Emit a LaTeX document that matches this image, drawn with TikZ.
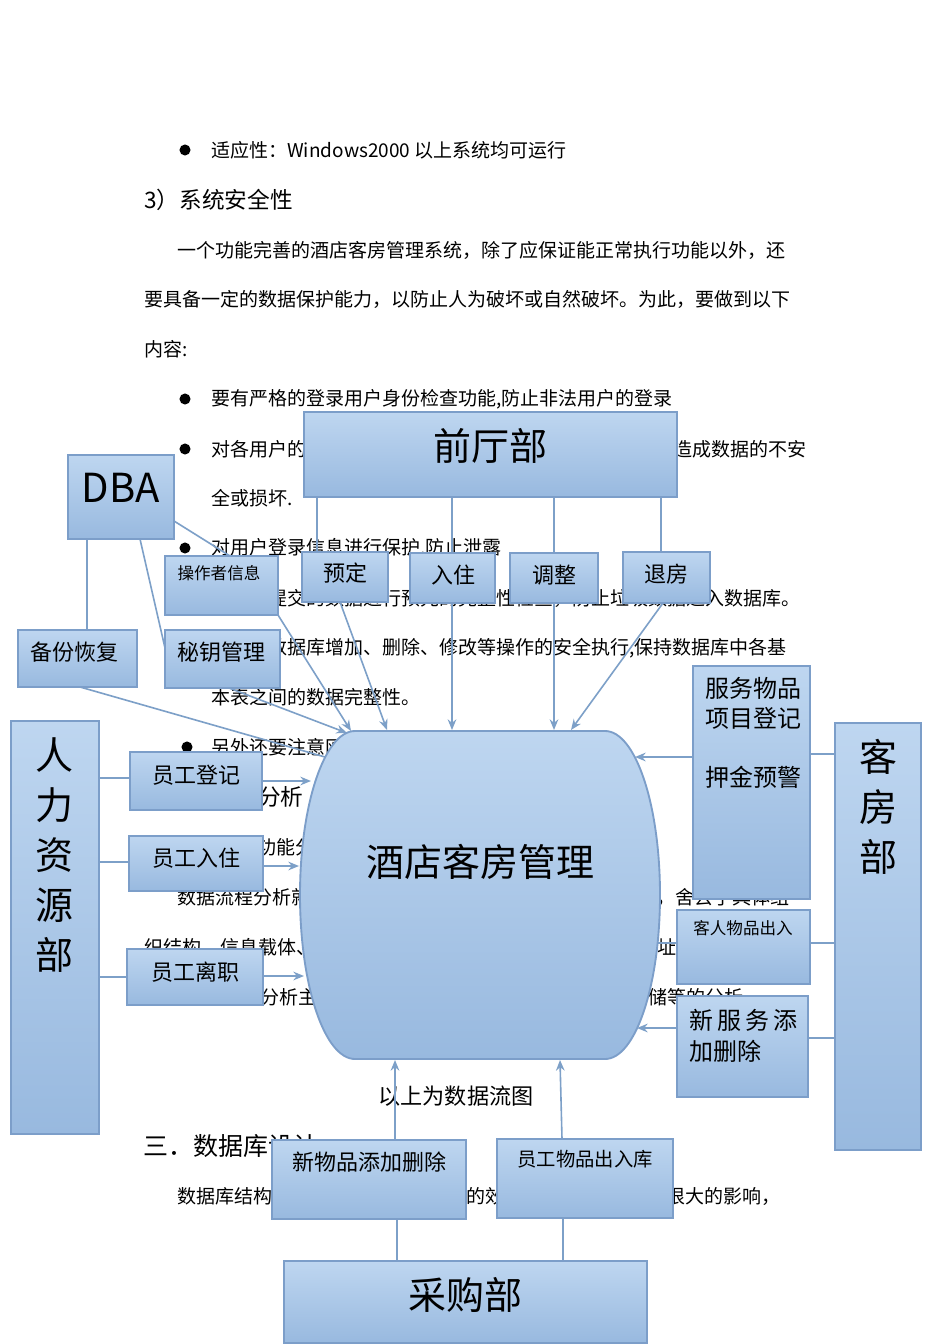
\documentclass[tikz,border=0pt]{standalone}
\usepackage{fontspec}
\setmainfont{Noto Sans CJK SC}
\usetikzlibrary{fit,calc,arrows.meta}
\definecolor{boxtop}{RGB}{190,214,240}
\definecolor{boxbot}{RGB}{152,185,223}
\definecolor{boxedge}{RGB}{124,158,201}
\definecolor{lnk}{RGB}{125,160,200}
\newcommand\fsz[2]{\fontsize{#1}{#2}\selectfont}
\pgfdeclarelayer{bg}
\pgfdeclarelayer{lines}
\pgfsetlayers{bg,lines,main}
\tikzset{
  dbox/.style={draw=boxedge, line width=1.4pt, top color=boxtop, bottom color=boxbot, inner sep=0pt, outer sep=0pt},
  lbl/.style={inner sep=0pt, text=black},
  bgtxt/.style={inner sep=0pt, anchor=west, font=\fsz{14.25pt}{17pt}},
  conn/.style={draw=lnk, line width=1.2pt},
  arr/.style={conn, -{Stealth[length=8pt,width=6.5pt]}},
  bul/.style={circle, fill=black, inner sep=0pt, minimum size=8.3pt}
}
\begin{document}
\begin{tikzpicture}[x=0.75pt,y=-0.75pt]
\useasboundingbox (0,0) rectangle (950,1344);

% ---------------- boxes ----------------
\node[dbox, fit={(304,412) (677,497)}] (qt) {};
\node[dbox, fit={(68,455) (174,539)}] (dba) {};
\node[dbox, fit={(165,556) (278,615)}] (czz) {};
\node[dbox, fit={(302,552) (388,602)}] (yd) {};
\node[dbox, fit={(410,553) (495,603)}] (rz) {};
\node[dbox, fit={(510,553) (598,603)}] (tz) {};
\node[dbox, fit={(623,552) (710,603)}] (tf) {};
\node[dbox, fit={(18,630) (137,687)}] (bf) {};
\node[dbox, fit={(165,630) (280,688)}] (my) {};
\node[dbox, fit={(11,721) (99,1134)}] (hr) {};
\node[dbox, fit={(130,752) (262,810)}] (yg1) {};
\node[dbox, fit={(129,836) (263,891)}] (yg2) {};
\node[dbox, fit={(127,949) (263,1005)}] (yg3) {};
\node[dbox, fit={(693,666) (810,899)}] (fw) {};
\node[dbox, fit={(835,723) (921,1150)}] (kf) {};
\node[dbox, fit={(677,910) (810,984)}] (kr) {};
\node[dbox, fit={(677,996) (808,1097)}] (xfw) {};
\node[dbox, fit={(272,1140) (466,1219)}] (xwp) {};
\node[dbox, fit={(497,1139) (673,1218)}] (ygwp) {};
\node[dbox, fit={(284,1261) (647,1343)}] (cg) {};

% central shape
\path[draw=boxedge, line width=1.4pt, top color=boxtop, bottom color=boxbot]
  (355,731) -- (605,731) .. controls (635.4,731) and (660,804.4) .. (660,895)
  .. controls (660,985.6) and (635.4,1059) .. (605,1059) -- (355,1059)
  .. controls (324.6,1059) and (300,985.6) .. (300,895)
  .. controls (300,804.4) and (324.6,731) .. (355,731) -- cycle;

% ---------------- labels ----------------
\node[lbl, font=\fsz{28.5pt}{34pt}] (qtl) at (490,446) {前厅部};
\node[lbl, font=\fsz{30pt}{36pt}] (dbal) at (121,488) {DBA};
\node[lbl, font=\fsz{12.4pt}{15pt}] (czzl) at (219,573) {操作者信息};
\node[lbl, font=\fsz{16.5pt}{20pt}] (ydl) at (345,573) {预定};
\node[lbl, font=\fsz{16.5pt}{20pt}] (rzl) at (453,575) {入住};
\node[lbl, font=\fsz{16.5pt}{20pt}] (tzl) at (554,575) {调整};
\node[lbl, font=\fsz{16.5pt}{20pt}] (tfl) at (666,574) {退房};
\node[lbl, font=\fsz{16.5pt}{20pt}] (bfl) at (74,652) {备份恢复};
\node[lbl, font=\fsz{16.5pt}{20pt}] (myl) at (221,652) {秘钥管理};
\node[lbl, font=\fsz{28.5pt}{37.5pt}, align=center] (hrl) at (55,855) {人\\力\\资\\源\\部};
\node[lbl, font=\fsz{16.5pt}{20pt}] (yg1l) at (196,775) {员工登记};
\node[lbl, font=\fsz{16.5pt}{20pt}] (yg2l) at (196,858) {员工入住};
\node[lbl, font=\fsz{16.5pt}{20pt}] (yg3l) at (195,972) {员工离职};
\node[lbl, font=\fsz{28.5pt}{34pt}] (hm) at (480,862) {酒店客房管理};
\node[lbl, font=\fsz{18pt}{22.1pt}, align=left, anchor=west] (fwl) at (705,703.5) {服务物品\\项目登记};
\node[lbl, font=\fsz{18pt}{22.1pt}, anchor=west] (fwl2) at (705,777) {押金预警};
\node[lbl, font=\fsz{28.5pt}{37.5pt}, align=center] (kfl) at (878,807) {客\\房\\部};
\node[lbl, font=\fsz{12.4pt}{15pt}] (krl) at (743,928) {客人物品出入};
\node[lbl, font=\fsz{18pt}{23.25pt}, align=left, anchor=west] (xfwl) at (689,1035.5) {新\hspace{3pt}服\hspace{3pt}务\hspace{3pt}添\\加删除};
\node[lbl, font=\fsz{16.5pt}{20pt}] (xwpl) at (369,1162) {新物品添加删除};
\node[lbl, font=\fsz{14.5pt}{18pt}] (ygwpl) at (585,1159) {员工物品出入库};
\node[lbl, font=\fsz{28.5pt}{34pt}] (cgl) at (465,1295) {采购部};

% ---------------- connector end points ----------------
\coordinate (s1) at (387,730);
\coordinate (s2) at (452,730);
\coordinate (s3) at (554,730);
\coordinate (s4) at (571,730);
\coordinate (s5) at (351,731);
\coordinate (s6) at (347,733);
\coordinate (s7) at (325,757);
\coordinate (s8) at (311,781);
\coordinate (s9) at (299,866);
\coordinate (s10) at (304,976);
\coordinate (s11) at (635,757);
\coordinate (s12) at (657,943);
\coordinate (s13) at (637,1028);
\coordinate (s14) at (395,1060);
\coordinate (s15) at (560,1060);
\path ($(yd.north west)+(15,0)$) coordinate (p1);
\path ($(tf.north west)+(38,0)$) coordinate (p2);
\path ($(bf.north west)+(69,0)$) coordinate (p3);
\path ($(xwp.south west)+(125,0)$) coordinate (p4);
\path ($(ygwp.south west)+(66,0)$) coordinate (p5);
\path ($(hr.north east)+(0,57)$) coordinate (h1);
\path ($(hr.north east)+(0,141)$) coordinate (h2);
\path ($(hr.north east)+(0,256)$) coordinate (h3);
\path ($(fw.north east)+(0,88)$) coordinate (k1);
\path ($(kr.north east)+(0,33)$) coordinate (k2);
\path ($(xfw.north east)+(0,42)$) coordinate (k3);

\begin{pgfonlayer}{lines}
% front desk
\draw[conn] (qt.south -| p1) -- (p1);
\draw[conn] (qt.south -| s2) -- (rz.north -| s2);
\draw[conn] (qt.south -| s3) -- (tz.north -| s3);
\draw[conn] (qt.south -| p2) -- (p2);
\draw[arr] ($(yd.south west)+(38,0)$) -- (s1);
\draw[arr] (rz.south -| s2) -- (s2);
\draw[arr] (tz.south -| s3) -- (s3);
\draw[arr] ($(tf.south west)+(40,0)$) -- (s4);
% DBA
\draw[conn] ($(dba.north east)+(0,66)$) -- ($(czz.north west)+(65,0)$);
\draw[conn] (dba.south -| p3) -- (p3);
\draw[conn] ($(dba.south west)+(72,0)$) -- ($(my.north west)+(0,18)$);
\draw[arr] (czz.south east) -- (s5);
\draw[arr] ($(my.south west)+(64,0)$) -- (s6);
\draw[conn] ($(bf.south west)+(62,0)$) -- (s7);
% HR
\draw[conn] (h1) -- (h1 -| yg1.west);
\draw[conn] (h2) -- (h2 -| yg2.west);
\draw[conn] (h3) -- (h3 -| yg3.west);
\draw[arr] (s8 -| yg1.east) -- (s8);
\draw[arr] (s9 -| yg2.east) -- (s9);
\draw[arr] (s10 -| yg3.east) -- (s10);
% rooms
\draw[arr] (s11 -| fw.west) -- (s11);
\draw[conn] (s12 -| kr.west) -- (s12);
\draw[arr] (s13 -| xfw.west) -- (s13);
\draw[conn] (k1) -- (k1 -| kf.west);
\draw[conn] (k2) -- (k2 -| kf.west);
\draw[conn] (k3) -- (k3 -| kf.west);
% purchasing
\draw[arr] (s14 |- xwp.north) -- (s14);
\draw[arr] ($(ygwp.north west)+(65,0)$) -- (s15);
\draw[conn] (p4) -- (p4 |- cg.north);
\draw[conn] (p5) -- (p5 |- cg.north);
\end{pgfonlayer}

% ---------------- page text underneath ----------------
\begin{pgfonlayer}{bg}
\fill[white] (0,0) rectangle (950,1344);
\node[bul] (b1) at (185,150) {};
\node[bgtxt] (t1) at (211,150) {适应性：Windows2000 以上系统均可运行};
\node[bgtxt, font=\fsz{17pt}{20pt}] (t2) at (144,200) {3）系统安全性};
\node[bgtxt] (t3) at (177,250) {一个功能完善的酒店客房管理系统，除了应保证能正常执行功能以外，还};
\node[bgtxt] (t4) at (144,299) {要具备一定的数据保护能力，以防止人为破坏或自然破坏。为此，要做到以下};
\node[bgtxt] (t5) at (144,349) {内容:};
\node[bul] (b2) at (185,399) {};
\node[bgtxt] (t6) at (211,399) {要有严格的登录用户身份检查功能,防止非法用户的登录};
\node[bul] (b3) at (185,449) {};
\node[bgtxt] (t7) at (211,449) {对各用户的};
\node[bgtxt] (t7b) at (673,449) {造成数据的不安};
\node[bgtxt] (t8) at (211,498) {全或损坏.};
\node[bul] (b4) at (185,548) {};
\node[bgtxt] (t9) at (211,548) {对用户登录信息进行保护,防止泄露};
\node[bgtxt] (t10) at (268,598) {提交的数据进行预先的完整性检查，防止垃圾数据进入数据库。};
\node[bgtxt] (t11) at (268,648) {数据库增加、删除、修改等操作的安全执行,保持数据库中各基};
\node[bgtxt] (t12) at (211,697) {本表之间的数据完整性。};
\node[bul] (b5) at (187,747) {};
\node[bgtxt] (t13) at (211,747) {另外还要注意网};
\node[bgtxt, font=\fsz{17pt}{20pt}] (t14) at (258,797) {分析};
\node[bgtxt] (t15) at (257,847) {功能分析};
\node[bgtxt] (t16) at (177,897) {数据流程分析就};
\node[bgtxt] (t16b) at (656,897) {，舍去了具体组};
\node[bgtxt] (t17) at (144,947) {织结构、信息载体、};
\node[bgtxt] (t17b) at (657,947) {址};
\node[bgtxt] (t18) at (260,997) {分析主};
\node[bgtxt] (t18b) at (648,997) {储等的分析};
\node[inner sep=0pt, font=\fsz{16.6pt}{20pt}] (t19) at (456,1096) {以上为数据流图};
\node[bgtxt, font=\fsz{18.75pt}{22pt}] (t20) at (143,1146) {三．数据库设计};
\node[bgtxt] (t21) at (177,1196) {数据库结构};
\node[bgtxt] (t21b) at (466,1196) {的效};
\node[bgtxt] (t21c) at (666,1196) {很大的影响，};
\end{pgfonlayer}
\end{tikzpicture}
\end{document}
